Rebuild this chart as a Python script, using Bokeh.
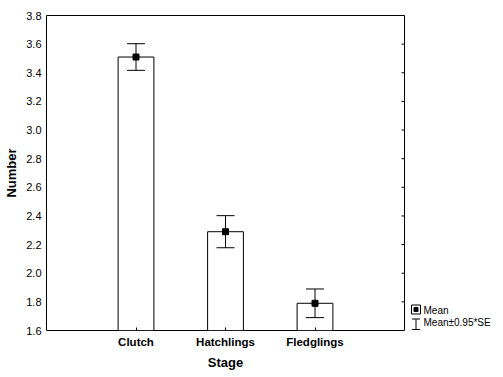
import math
from bokeh.plotting import figure
from bokeh.models import (ColumnDataSource, Range1d, Whisker, TeeHead,
                          FixedTicker, NumeralTickFormatter)
from bokeh.layouts import row
from bokeh.embed import file_html
from bokeh.resources import INLINE
from bokeh.core.properties import value

# ---- data ----
stages = ["Clutch", "Hatchlings", "Fledglings"]
means = [3.51, 2.29, 1.79]
half_ci = [0.093, 0.112, 0.100]          # 0.95*SE
y_ticks = [1.6, 1.8, 2.0, 2.2, 2.4, 2.6, 2.8, 3.0, 3.2, 3.4, 3.6, 3.8]
y_start, y_end = 1.6, 3.8
legend_labels = ["Mean", "Mean\u00b10.95*SE"]
x_title = "Stage"
y_title = "Number"

FONT = "Liberation Sans"
H = 373
TOP, BOTTOM = 15, 43
W_MAIN, W_LEG = 408, 90

xpos = list(range(1, len(stages) + 1))
x_lo, x_hi = 0, len(stages) + 1

src = ColumnDataSource(dict(
    x=xpos,
    stage=stages,
    mean=means,
    lower=[m - e for m, e in zip(means, half_ci)],
    upper=[m + e for m, e in zip(means, half_ci)],
    base=[y_start] * len(stages),
))

p = figure(
    x_range=Range1d(x_lo, x_hi),
    y_range=Range1d(y_start, y_end),
    width=W_MAIN, height=H,
    min_border_left=46, min_border_top=TOP, min_border_bottom=BOTTOM, min_border_right=4,
    output_backend="svg", toolbar_location=None,
)
p.background_fill_color = "white"
p.border_fill_color = "white"
p.outline_line_color = "black"
p.outline_line_width = 1
p.grid.visible = False

# bars
p.vbar(x="x", top="mean", bottom="base", width=0.4, source=src,
       fill_color="white", line_color="black", line_width=1)

# error bars
wh = Whisker(base="x", lower="lower", upper="upper", source=src,
             line_color="black", line_width=1, level="annotation",
             upper_head=TeeHead(size=18, line_color="black", line_width=1),
             lower_head=TeeHead(size=18, line_color="black", line_width=1))
p.add_layout(wh)

# mean markers
p.scatter(x="x", y="mean", source=src, marker="square", size=6,
          fill_color="black", line_color="black")

# inside ticks on the right frame edge
p.ray(x=[x_hi] * len(y_ticks), y=y_ticks, length=3, length_units="screen",
      angle=math.pi, line_color="black", line_width=1)

# axes
xa = p.xaxis[0]
xa.ticker = FixedTicker(ticks=xpos)
xa.major_label_overrides = {x: s for x, s in zip(xpos, stages)}
xa.minor_tick_line_color = None
xa.axis_label = x_title
xa.axis_label_text_font = FONT
xa.axis_label_text_font_size = "13px"
xa.axis_label_text_font_style = "bold"
xa.axis_label_text_color = "black"
xa.axis_label_standoff = 4
xa.major_label_text_font = FONT
xa.major_label_text_font_size = "11.5px"
xa.major_label_text_font_style = "bold"
xa.major_label_text_color = "black"
xa.major_label_standoff = 5
xa.major_tick_in = 3
xa.major_tick_out = 0
xa.major_tick_line_color = "black"
xa.axis_line_color = None

ya = p.yaxis[0]
ya.ticker = FixedTicker(ticks=y_ticks)
ya.formatter = NumeralTickFormatter(format="0.0")
ya.axis_label = y_title
ya.axis_label_text_font = FONT
ya.axis_label_text_font_size = "13px"
ya.axis_label_text_font_style = "bold"
ya.axis_label_text_color = "black"
ya.axis_label_standoff = 4
ya.major_label_text_font = FONT
ya.major_label_text_font_size = "11px"
ya.major_label_text_color = "black"
ya.major_label_standoff = 5
ya.major_tick_in = 0
ya.major_tick_out = 0
ya.minor_tick_line_color = None
ya.axis_line_color = None

# ---- legend panel: a small figure whose ranges equal page pixels ----
lg = figure(width=W_LEG, height=H,
            x_range=Range1d(W_MAIN, W_MAIN + W_LEG), y_range=Range1d(H - BOTTOM, TOP),
            min_border_left=0, min_border_right=0, min_border_top=TOP, min_border_bottom=BOTTOM,
            x_axis_location=None, y_axis_location=None,
            output_backend="svg", toolbar_location=None)
lg.outline_line_color = None
lg.grid.visible = False
lg.background_fill_color = "white"
lg.border_fill_color = "white"

# legend layout (pixel positions inside the legend panel)
lx, ly = 415.5, 309          # centre of the first symbol
# Mean symbol: open square with a filled square inside
lg.rect(x=[lx], y=[ly], width=9, height=9, fill_color="white", line_color="black", line_width=1)
lg.rect(x=[lx], y=[ly], width=4, height=4, fill_color="black", line_color="black", line_width=1)
# whisker symbol
y_top, y_bot = ly + 9.5, ly + 20
lg.segment(x0=[lx, lx - 4, lx - 4], y0=[y_top, y_top, y_bot],
           x1=[lx, lx + 4, lx + 4], y1=[y_bot, y_top, y_bot],
           line_color="black", line_width=1)
lg.text(x=[lx + 7.5, lx + 7.5], y=[ly + 0.5, ly + 13], text=legend_labels,
        text_baseline="middle", text_align="left", text_font=value(FONT),
        text_font_size="10px", text_color="black")

layout = row(p, lg, spacing=0)

open("out.html", "w").write(file_html(layout, INLINE))
